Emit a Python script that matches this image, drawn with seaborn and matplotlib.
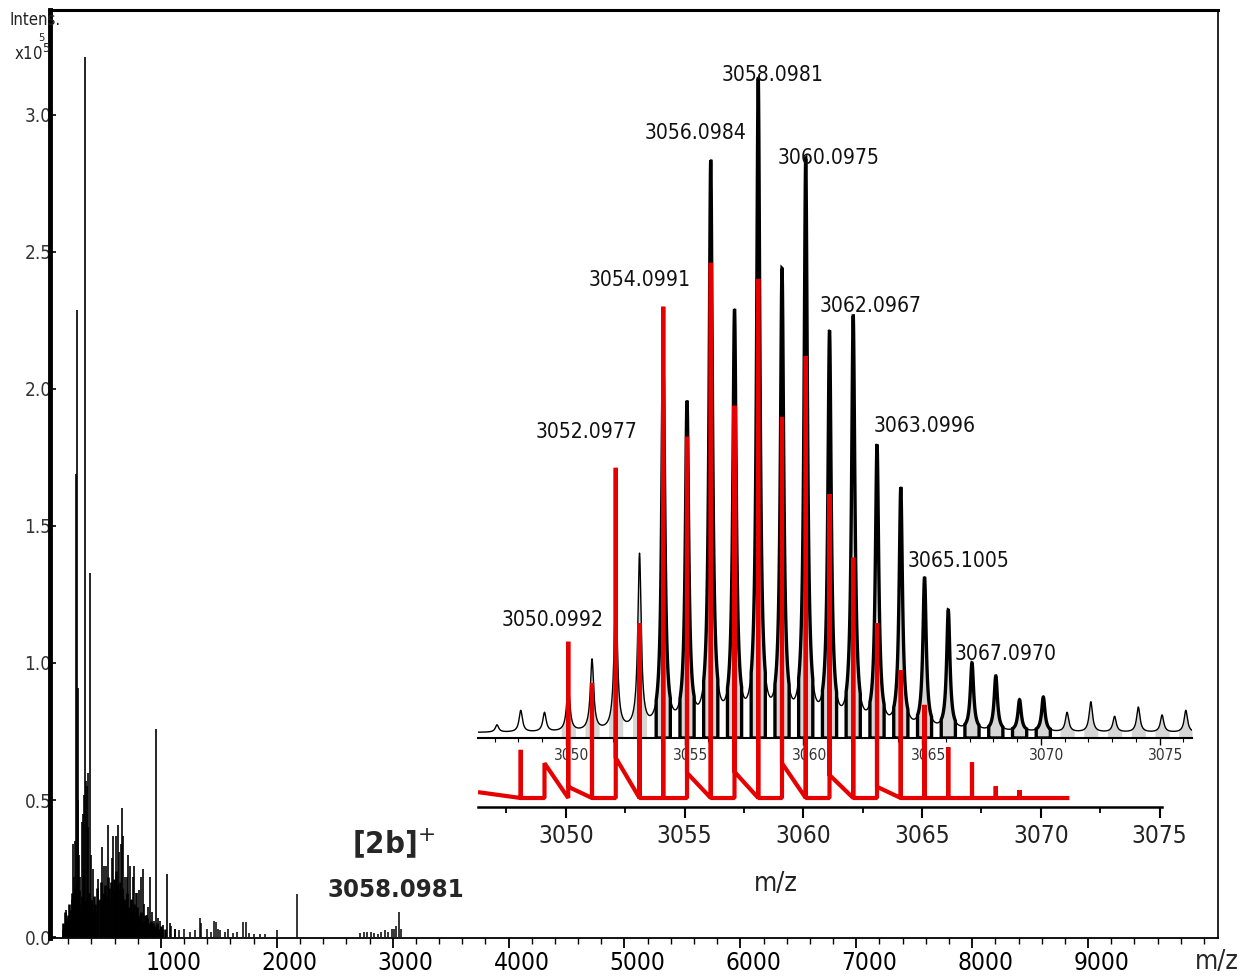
import os
import numpy as np
import matplotlib
matplotlib.use("Agg")
import matplotlib.pyplot as plt
import seaborn as sns
from matplotlib import font_manager
from matplotlib.font_manager import FontProperties
from matplotlib.ticker import FixedLocator, MultipleLocator
from matplotlib.transforms import ScaledTranslation

# ---------------- overview spectrum (m/z, intensity x10^5) ----------------
peak_mz = [345, 273, 265, 388, 287, 368, 351, 325, 239, 250, 181, 201, 224, 302,
           339, 403, 412, 437, 455, 468, 494, 509, 524, 546, 561, 575, 589, 610,
           627, 638, 653, 664, 676, 690, 705, 719, 733, 745, 762, 770, 785, 796,
           814, 826, 843, 857, 877, 891, 906, 921, 940, 958, 978, 992, 1021, 1055,
           1078, 1122, 258, 281, 296, 315, 333, 360, 375, 395, 410]
peak_int = [3.21, 2.29, 1.69, 1.33, 0.91, 0.60, 0.57, 0.45, 0.34, 0.22, 0.10, 0.07,
            0.07, 0.22, 0.24, 0.135, 0.09, 0.09, 0.21, 0.13, 0.33, 0.26, 0.26, 0.41,
            0.14, 0.29, 0.37, 0.37, 0.41, 0.31, 0.34, 0.47, 0.37, 0.22, 0.22, 0.30,
            0.26, 0.13, 0.22, 0.26, 0.16, 0.16, 0.17, 0.22, 0.25, 0.12, 0.08, 0.11,
            0.22, 0.09, 0.06, 0.76, 0.07, 0.06, 0.045, 0.23, 0.05, 0.03, 0.35, 0.50,
            0.30, 0.42, 0.52, 0.55, 0.40, 0.30, 0.25]

forest_mz = [152, 158, 166, 173, 190, 196, 208, 214, 229, 233, 244, 256, 261, 279,
             294, 310, 318, 330, 344, 357, 362, 375, 381, 396, 421, 430, 449, 472,
             480, 498, 515, 531, 541, 556, 570, 582, 596, 603, 615, 622, 633, 645,
             660, 668, 684, 698, 711, 727, 738, 752, 767, 777, 791, 801, 820, 831,
             848, 864, 870, 884, 899, 912, 929, 934, 948, 965, 985, 1001, 1010, 1033]
forest_int = [0.03, 0.05, 0.04, 0.09, 0.06, 0.08, 0.12, 0.10, 0.16, 0.14, 0.12, 0.18,
              0.15, 0.20, 0.17, 0.12, 0.15, 0.11, 0.13, 0.10, 0.14, 0.12, 0.16, 0.13,
              0.15, 0.12, 0.18, 0.14, 0.20, 0.16, 0.19, 0.15, 0.22, 0.18, 0.20, 0.17,
              0.21, 0.16, 0.24, 0.19, 0.17, 0.20, 0.15, 0.18, 0.14, 0.13, 0.16, 0.11,
              0.14, 0.10, 0.12, 0.09, 0.11, 0.08, 0.07, 0.09, 0.06, 0.08, 0.05, 0.07,
              0.05, 0.06, 0.04, 0.05, 0.04, 0.05, 0.03, 0.04, 0.03, 0.03]

high_mz = [1090, 1120, 1160, 1200, 1250, 1290, 1337, 1345, 1395, 1430, 1458, 1473,
           1490, 1510, 1550, 1579, 1620, 1660, 1711, 1734, 1760, 1800, 1855, 1900,
           1999, 2171, 2720, 2750, 2780, 2810, 2840, 2870, 2900, 2930, 2960, 2990,
           3010, 3030, 3058, 3070]
high_int = [0.04, 0.03, 0.025, 0.03, 0.02, 0.025, 0.07, 0.05, 0.03, 0.02, 0.06, 0.055,
            0.03, 0.025, 0.02, 0.03, 0.015, 0.02, 0.055, 0.055, 0.015, 0.01, 0.012,
            0.01, 0.025, 0.157, 0.015, 0.02, 0.018, 0.02, 0.015, 0.012, 0.02, 0.025,
            0.02, 0.03, 0.03, 0.04, 0.09, 0.03]

main_xticks = [1000, 2000, 3000, 4000, 5000, 6000, 7000, 8000, 9000]
main_yticks = [0.0, 0.5, 1.0, 1.5, 2.0, 2.5, 3.0]

# ---------------- [2b]+ isotope cluster ----------------
# measured profile: centroid m/z and relative intensity (%)
exp_mz = [3047.10, 3048.10, 3049.10, 3050.0992, 3051.10, 3052.0977, 3053.10,
          3054.0991, 3055.10, 3056.0984, 3057.10, 3058.0981, 3059.10, 3060.0975,
          3061.10, 3062.0967, 3063.0996, 3064.10, 3065.1005, 3066.10, 3067.0970,
          3068.10, 3069.10, 3070.10, 3071.10, 3072.10, 3073.10, 3074.10, 3075.10,
          3076.10]
exp_int = [2.0, 4.2, 3.9, 8.0, 12.0, 22.0, 28.0, 55.0, 51.1, 87.6, 65.0, 100.0,
           71.2, 87.9, 61.8, 64.0, 44.5, 38.0, 24.4, 19.4, 11.4, 9.4, 5.8, 6.2, 3.9,
           5.5, 3.3, 4.7, 3.5, 4.2]
exp_labels = ["3050.0992", "3052.0977", "3054.0991", "3056.0984", "3058.0981",
              "3060.0975", "3062.0967", "3063.0996", "3065.1005", "3067.0970"]

# simulated isotope pattern (relative %), with the decay level after each line
sim_mz = [3048.1, 3049.1, 3050.1, 3051.1, 3052.1, 3053.1, 3054.1, 3055.1, 3056.1,
          3057.1, 3058.1, 3059.1, 3060.1, 3061.1, 3062.1, 3063.1, 3064.1, 3065.1,
          3066.1, 3067.1, 3068.1, 3069.1]
sim_int = [9.0, 6.5, 29.2, 21.5, 61.7, 32.7, 91.8, 67.5, 100.0, 73.3, 97.0, 71.2,
           82.6, 56.8, 44.9, 32.7, 23.9, 17.4, 9.5, 6.7, 2.2, 1.5]
sim_tail = [0.0, 6.5, 2.1, 0.0, 7.5, 0.0, 0.0, 4.7, 0.0, 4.9, 0.0, 6.5, 0.0, 4.3,
            0.0, 2.1, 0.0, 0.0, 0.0, 0.0, 0.0, 0.0]
sim_start = (3046.3, 1.1)
sim_end = (3071.2, 0.0)
inset_ticks = [3050, 3055, 3060, 3065, 3070, 3075]

# ---------------- style / fonts ----------------
sns.set_theme(style="ticks")
plt.rcParams["font.family"] = ["Liberation Sans", "DejaVu Sans"]
plt.rcParams["axes.edgecolor"] = "black"
plt.rcParams["xtick.color"] = "black"
plt.rcParams["ytick.color"] = "black"

font_pairs = [("LiberationSansNarrow-Regular.ttf", "LiberationSansNarrow-Bold.ttf"),
              ("NotoSans-Condensed.ttf", "NotoSans-CondensedBold.ttf"),
              ("DejaVuSansCondensed.ttf", "DejaVuSansCondensed-Bold.ttf")]
system_fonts = {os.path.basename(p).lower(): p for p in font_manager.findSystemFonts()}
REG = BOLD = None
for r_name, b_name in font_pairs:
    if r_name.lower() in system_fonts and b_name.lower() in system_fonts:
        REG, BOLD = system_fonts[r_name.lower()], system_fonts[b_name.lower()]
        break

W, H = 1240, 980
fig = plt.figure(figsize=(W / 100, H / 100), dpi=100)
fig.patch.set_facecolor("white")


def raw_fp(size, bold=False):
    if REG is not None:
        return FontProperties(fname=BOLD if bold else REG, size=size)
    return FontProperties(family="Liberation Sans", weight="bold" if bold else "normal",
                          size=size)


# scale so that the numeric labels keep the width of a narrow grotesque
_probe = fig.text(0, 0, "3058.0981", fontproperties=raw_fp(100))
_w = _probe.get_window_extent(fig.canvas.get_renderer()).width
_probe.remove()
SCALE = min(1.0, (3.88 * 100 * 100 / 72) / _w)


def fp(size, bold=False):
    return raw_fp(size * SCALE, bold)


def box(left, top, right, bottom):
    return [left / W, 1 - bottom / H, (right - left) / W, (bottom - top) / H]


def fx(px):
    return px / W


def fy(py):
    return 1 - py / H


# ---------------- overview axes ----------------
ax = fig.add_axes(box(50, 10, 1218, 938))
ax.set_facecolor("white")
ax.vlines(forest_mz, 0, forest_int, color="black", lw=1.9)
ax.vlines(peak_mz, 0, peak_int, color="black", lw=1.2)
ax.vlines(high_mz, 0, high_int, color="black", lw=1.1)
ax.set_xlim(43, 10121)
ax.set_ylim(-0.0036, 3.383)

ax.xaxis.set_major_locator(FixedLocator(main_xticks))
ax.set_xticklabels([str(t) for t in main_xticks], fontproperties=fp(22))
ax.xaxis.set_minor_locator(MultipleLocator(200))
ax.yaxis.set_major_locator(FixedLocator(main_yticks))
ax.set_yticklabels([f"{t:.1f}" for t in main_yticks], fontproperties=fp(17))
ax.tick_params(axis="x", which="major", direction="out", length=7, width=1.3, pad=2)
ax.tick_params(axis="x", which="minor", direction="out", length=4, width=1.0)
ax.tick_params(axis="y", which="major", direction="in", length=4, width=1.2,
               pad=-1, labelcolor="#333333")
shift = ScaledTranslation(13 / 100, 0, fig.dpi_scale_trans)
for lab in ax.get_xticklabels():
    lab.set_transform(lab.get_transform() + shift)
ax.spines["left"].set_linewidth(3.5)
ax.spines["top"].set_linewidth(2.2)
ax.spines["right"].set_linewidth(1.2)
ax.spines["bottom"].set_linewidth(1.3)

fig.text(fx(35), fy(20), "Intens.", fontproperties=fp(15), ha="center", va="center",
         color="#222222")
fig.text(fx(41), fy(38), "5", fontproperties=fp(10), ha="center", va="center",
         color="#222222")
fig.text(fx(14), fy(54), "x10$^5$", fontproperties=fp(15), ha="left", va="center",
         color="#222222")
fig.text(fx(1217), fy(962), "m/z", fontproperties=fp(24), ha="center", va="center")

fig.text(fx(394), fy(843), "[2b]$^{+}$", fontproperties=fp(28, bold=True),
         ha="center", va="center")
fig.text(fx(396), fy(890), "3058.0981", fontproperties=fp(23, bold=True),
         ha="center", va="center")

# ---------------- measured cluster (black profile) ----------------
axb = fig.add_axes(box(478, 60, 1192, 738))
axb.set_facecolor("none")
axb.set_xlim(3046.3, 3076.36)
axb.set_ylim(0, 102.7)
for s in ["left", "right", "top"]:
    axb.spines[s].set_visible(False)
axb.spines["bottom"].set_linewidth(1.5)
axb.set_yticks([])

gamma = 0.085
noise_level = 0.8
mz_arr = np.asarray(exp_mz)
int_arr = np.asarray(exp_int)
# Lorentzian line shape; amplitudes chosen so that each apex lands on its listed intensity
shape = gamma ** 2 / ((mz_arr[:, None] - mz_arr[None, :]) ** 2 + gamma ** 2)
amp = np.linalg.solve(shape, int_arr - noise_level)
grid = np.linspace(3046.3, 3076.36, 6000)
profile = noise_level + (amp[:, None] * gamma ** 2 /
                         ((grid[None, :] - mz_arr[:, None]) ** 2 + gamma ** 2)).sum(axis=0)

half = 0.3
for m in mz_arr[mz_arr > 3049.5]:
    sel = np.abs(grid - m) <= half
    axb.fill_between(grid[sel], 0, profile[sel], color="#d6d6d6", lw=0, zorder=1)

sns.lineplot(x=grid, y=profile, ax=axb, color="black", lw=1.0, zorder=2)

for m in mz_arr[(mz_arr > 3053.5) & (mz_arr < 3070.5)]:
    sel = np.abs(grid - m) <= half
    gx = np.concatenate([[grid[sel][0]], grid[sel], [grid[sel][-1], grid[sel][0]]])
    gy = np.concatenate([[0], profile[sel], [0, 0]])
    axb.plot(gx, gy, color="black", lw=2.4, solid_joinstyle="miter", zorder=3)

axb.xaxis.set_major_locator(FixedLocator(inset_ticks))
axb.set_xticklabels([str(t) for t in inset_ticks], fontproperties=fp(14))
axb.xaxis.set_minor_locator(MultipleLocator(1))
axb.tick_params(axis="x", which="major", direction="out", length=5, width=1.0,
                pad=2, labelcolor="#333333")
axb.tick_params(axis="x", which="minor", direction="out", length=3, width=0.8)
shift_b = ScaledTranslation(6 / 100, 0, fig.dpi_scale_trans)
for lab in axb.get_xticklabels():
    lab.set_transform(lab.get_transform() + shift_b)

# peak annotations (positions in the cluster axes' data units)
label_pos = [(3049.46, 17.9), (3050.85, 46.4), (3053.12, 69.4), (3055.48, 91.7),
             (3058.72, 100.5), (3061.04, 87.9), (3062.85, 65.5), (3065.12, 47.3),
             (3066.51, 26.8), (3068.53, 12.7)]
for txt, (lx, ly) in zip(exp_labels, label_pos):
    fig.text(lx, ly, txt, transform=axb.transData, fontproperties=fp(19),
             ha="center", va="center", color="#111111", zorder=10)

# ---------------- simulated pattern (red) ----------------
axr = fig.add_axes(box(478, 60, 1162, 807))
axr.set_facecolor("none")
axr.set_xlim(3046.3, 3075.1)
axr.set_ylim(-1.68, 137.9)
for s in ["left", "right", "top"]:
    axr.spines[s].set_visible(False)
axr.spines["bottom"].set_linewidth(1.8)
axr.set_yticks([])

sx, sy = [sim_start[0]], [sim_start[1]]
for m, p, t in zip(sim_mz, sim_int, sim_tail):
    sx += [m, m, m]
    sy += [0.0, p, t]
sx.append(sim_end[0])
sy.append(sim_end[1])
sns.lineplot(x=sx, y=sy, sort=False, estimator=None, ax=axr, color="#e60000",
             lw=3.0, solid_joinstyle="bevel", solid_capstyle="butt", zorder=4)

axr.xaxis.set_major_locator(FixedLocator(inset_ticks))
axr.set_xticklabels([str(t) for t in inset_ticks], fontproperties=fp(22))
axr.xaxis.set_minor_locator(MultipleLocator(2.5))
axr.tick_params(axis="x", which="major", direction="out", length=8, width=1.5,
                pad=4, labelcolor="#222222")
axr.tick_params(axis="x", which="minor", direction="out", length=4, width=1.3)
fig.text(fx(776), fy(884), "m/z", fontproperties=fp(24), ha="center", va="center",
         color="#222222")

fig.savefig("out.png", dpi=100, facecolor="white")
